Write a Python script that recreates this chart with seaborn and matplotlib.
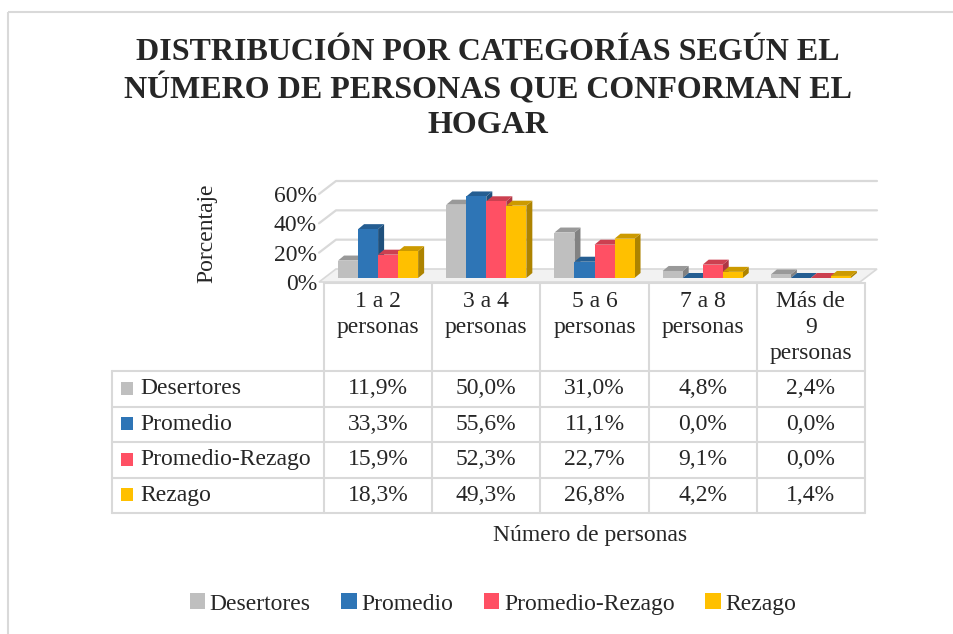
import numpy as np
import pandas as pd
import matplotlib
matplotlib.use("Agg")
import matplotlib.pyplot as plt
import matplotlib.colors as mcolors
from matplotlib.patches import Polygon, Rectangle, Patch
from matplotlib.transforms import ScaledTranslation
import seaborn as sns

# ---------------- data ----------------
categories = ["1 a 2 personas", "3 a 4 personas", "5 a 6 personas", "7 a 8 personas", "Más de 9 personas"]
col_labels = ["1 a 2\npersonas", "3 a 4\npersonas", "5 a 6\npersonas", "7 a 8\npersonas", "Más de\n9\npersonas"]
series = ["Desertores", "Promedio", "Promedio-Rezago", "Rezago"]
desertores = [11.9, 50.0, 31.0, 4.8, 2.4]
promedio = [33.3, 55.6, 11.1, 0.0, 0.0]
promedio_rezago = [15.9, 52.3, 22.7, 9.1, 0.0]
rezago = [18.3, 49.3, 26.8, 4.2, 1.4]
y_ticks = [0, 20, 40, 60]
colors = ["#BFBFBF", "#2E75B6", "#FF5064", "#FFC000"]

title = "DISTRIBUCIÓN POR CATEGORÍAS SEGÚN EL\nNÚMERO DE PERSONAS QUE CONFORMAN EL\nHOGAR"
y_label = "Porcentaje"
x_label = "Número de personas"

values = [desertores, promedio, promedio_rezago, rezago]
df = pd.DataFrame({
    "cat": np.repeat([categories], len(series), axis=0).ravel(),
    "serie": np.repeat(series, len(categories)),
    "val": np.concatenate(values),
})

# ---------------- style ----------------
sns.set_style("white")
plt.rcParams["font.family"] = ["Liberation Serif", "DejaVu Serif"]
FS = 17

W, H = 954, 634
fig = plt.figure(figsize=(W / 100, H / 100), dpi=100)

# canvas axes in pixel coordinates for table / text / border
canvas = fig.add_axes([0, 0, 1, 1], zorder=0)
canvas.set_xlim(0, W)
canvas.set_ylim(H, 0)
canvas.axis("off")

# main bar axes (bar plane)
L, R, B, T = 324, 865, 278, 190
ax = fig.add_axes([L / W, 1 - B / H, (R - L) / W, (B - T) / H], zorder=1)
ax.patch.set_alpha(0)

sns.barplot(data=df, x="cat", y="val", hue="serie", hue_order=series,
            order=categories, palette=colors, width=0.74, gap=0,
            saturation=1, legend=False, ax=ax, edgecolor="none",
            err_kws={"linewidth": 0})
ax.set_xlim(-0.5, len(categories) - 0.5)
ax.set_ylim(0, 60)
ax.set_yticks(y_ticks)
ax.set_yticklabels([f"{t}%" for t in y_ticks], fontsize=FS)
ax.set_xticks([])
ax.set_xlabel("")
ax.set_ylabel("")
for s in ax.spines.values():
    s.set_visible(False)
ax.tick_params(axis="y", length=0, pad=5)
for lab in ax.get_yticklabels():
    lab.set_transform(lab.get_transform() + ScaledTranslation(0, -3 / 72, fig.dpi_scale_trans))

ppx = (R - L) / len(categories)
ppy = (B - T) / 60.0
ox = lambda p: p / ppx
oy = lambda p: p / ppy

grid_c = "#D9D9D9"
x0, x1 = -0.5, len(categories) - 0.5
# floor
floor = Polygon([(x0 + ox(-5), oy(-4)), (x1 + ox(-5), oy(-4)),
                 (x1 + ox(12), oy(9)), (x0 + ox(12), oy(9))],
                closed=True, facecolor="#F2F2F2", edgecolor=grid_c, lw=1.2,
                clip_on=False, zorder=0.5)
ax.add_patch(floor)
# gridlines (side wall + back wall)
for v in y_ticks[1:]:
    ax.plot([x0 + ox(-5), x0 + ox(12), x1 + ox(12)],
            [v + oy(-4), v + oy(9), v + oy(9)],
            color=grid_c, lw=1.6, clip_on=False, zorder=0.4)

# 3D faces derived from the seaborn bars
def shade(c, f):
    r, g, b = mcolors.to_rgb(c)
    return (r * f, g * f, b * f)

bars = sorted([p for p in ax.patches if isinstance(p, Rectangle) and p is not floor],
              key=lambda p: p.get_x())
ddx, ddy = ox(6), oy(5)
for k, p in enumerate(bars):
    bx, bw, bh = p.get_x(), p.get_width(), p.get_height()
    fc = p.get_facecolor()
    z = 2 + k * 0.01
    p.set_zorder(z + 0.005)
    p.set_clip_on(False)
    top = Polygon([(bx, bh), (bx + bw, bh), (bx + bw + ddx, bh + ddy), (bx + ddx, bh + ddy)],
                  closed=True, facecolor=shade(fc, 0.8), edgecolor="none", clip_on=False, zorder=z)
    side = Polygon([(bx + bw, 0), (bx + bw, bh), (bx + bw + ddx, bh + ddy), (bx + bw + ddx, ddy)],
                   closed=True, facecolor=shade(fc, 0.68), edgecolor="none", clip_on=False, zorder=z)
    ax.add_patch(side)
    ax.add_patch(top)

# ---------------- table ----------------
line_c = "#D9D9D9"
lw = 1.5
col_edges = [L + i * ppx for i in range(len(categories) + 1)]
col_centers = [L + (i + 0.5) * ppx for i in range(len(categories))]
head_top, head_bot = 283, 371
row_h = 35.5
row_edges = [head_bot + i * row_h for i in range(len(series) + 1)]
tbl_left = 112

for xe in col_edges:
    canvas.plot([xe, xe], [head_top, row_edges[-1]], color=line_c, lw=lw)
canvas.plot([col_edges[0], col_edges[-1]], [head_top, head_top], color=line_c, lw=lw)
canvas.plot([tbl_left, tbl_left], [row_edges[0], row_edges[-1]], color=line_c, lw=lw)
for ye in row_edges:
    canvas.plot([tbl_left, col_edges[-1]], [ye, ye], color=line_c, lw=lw)

for xc, lab in zip(col_centers, col_labels):
    canvas.text(xc, 291, lab, ha="center", va="top", fontsize=FS, linespacing=1.3)

for r, (name, vals, c) in enumerate(zip(series, values, colors)):
    yc = (row_edges[r] + row_edges[r + 1]) / 2
    canvas.add_patch(Rectangle((121, yc - 7), 12, 13, facecolor=c, edgecolor="none"))
    canvas.text(140, yc, name, ha="left", va="center", fontsize=FS)
    for xc, v in zip(col_centers, vals):
        canvas.text(xc, yc, f"{v:.1f}".replace(".", ",") + "%", ha="center", va="center", fontsize=FS)

# ---------------- texts ----------------
canvas.text(488, 89, title, ha="center", va="center", fontsize=23, fontweight="bold", linespacing=1.27)
canvas.text(207, 233, y_label, ha="center", va="center", rotation=90, fontsize=FS)
canvas.text(590, 536, x_label, ha="center", va="center", fontsize=FS)

# border
canvas.add_patch(Rectangle((8.5, 11.5), W + 20, H + 20, fill=False, edgecolor="#D9D9D9", lw=1.5))

# legend
handles = [Patch(facecolor=c, edgecolor="none", label=s) for s, c in zip(series, colors)]
fig.legend(handles=handles, loc="center", bbox_to_anchor=(493 / W, 1 - 604 / H), ncol=4,
           frameon=False, fontsize=FS, handlelength=0.65, handleheight=0.65,
           handletextpad=0.2, columnspacing=1.3)

fig.savefig("out.png", dpi=100)
